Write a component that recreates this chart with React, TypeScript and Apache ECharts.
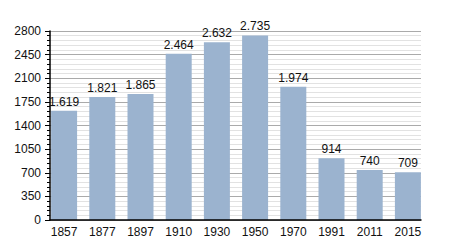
import React, { useEffect, useRef } from "react";
import * as echarts from "echarts";

const years = ["1857", "1877", "1897", "1910", "1930", "1950", "1970", "1991", "2011", "2015"];
const population = [1619, 1821, 1865, 2464, 2632, 2735, 1974, 914, 740, 709];
const yMin = 0;
const yMax = 2800;
const yInterval = 350;

const fmt = (v: number) => {
  const s = String(Math.round(v));
  return s.replace(/\B(?=(\d{3})+(?!\d))/g, ".");
};

export default function App() {
  const ref = useRef<HTMLDivElement>(null);
  useEffect(() => {
    if (!ref.current) return;
    const chart = echarts.init(ref.current, null, { renderer: "svg" });
    const font = "Liberation Sans, Arial, sans-serif";
    chart.setOption({
      animation: false,
      grid: [
        { left: 50, right: 29, top: 31, bottom: 30 },
        { left: 45, right: 23, top: 31, bottom: 30 },
      ],
      xAxis: [
        {
          gridIndex: 0,
          type: "category",
          data: years,
          z: 10,
          axisLine: { show: true, lineStyle: { color: "#000", width: 1.5 } },
          axisTick: { show: false },
          axisLabel: { show: false },
        },
        {
          gridIndex: 1,
          type: "category",
          data: years,
          axisLine: { show: false },
          axisTick: { show: false },
          axisLabel: { color: "#111", fontSize: 12, fontFamily: font, margin: 6 },
        },
      ],
      yAxis: [
        {
          gridIndex: 0,
          type: "value",
          min: yMin,
          max: yMax,
          interval: yInterval,
          axisLine: { show: true, lineStyle: { color: "#000", width: 1.5 } },
          axisTick: { show: true, length: 5, lineStyle: { color: "#000" } },
          minorTick: { show: true, splitNumber: 5, length: 3, lineStyle: { color: "#000" } },
          axisLabel: {
            color: "#111",
            fontSize: 12,
            fontFamily: font,
            margin: 9,
            formatter: (v: number) => String(v),
          },
          splitLine: { show: true, lineStyle: { color: "#aaaaaa", width: 1 } },
          minorSplitLine: { show: true, lineStyle: { color: "#e2e2e2", width: 1 } },
        },
        {
          gridIndex: 1,
          type: "value",
          min: yMin,
          max: yMax,
          interval: yInterval,
          show: false,
          splitLine: { show: false },
        },
      ],
      series: [
        {
          type: "bar",
          xAxisIndex: 1,
          yAxisIndex: 1,
          data: population,
          barWidth: 26,
          itemStyle: { color: "#9bb3cf" },
          label: {
            show: true,
            position: "top",
            distance: 3,
            color: "#111",
            fontSize: 12,
            fontFamily: font,
            formatter: (p: any) => fmt(p.value),
          },
        },
      ],
    });
    return () => chart.dispose();
  }, []);
  return <div ref={ref} style={{ width: 450, height: 250, margin: -8 }} />;
}
